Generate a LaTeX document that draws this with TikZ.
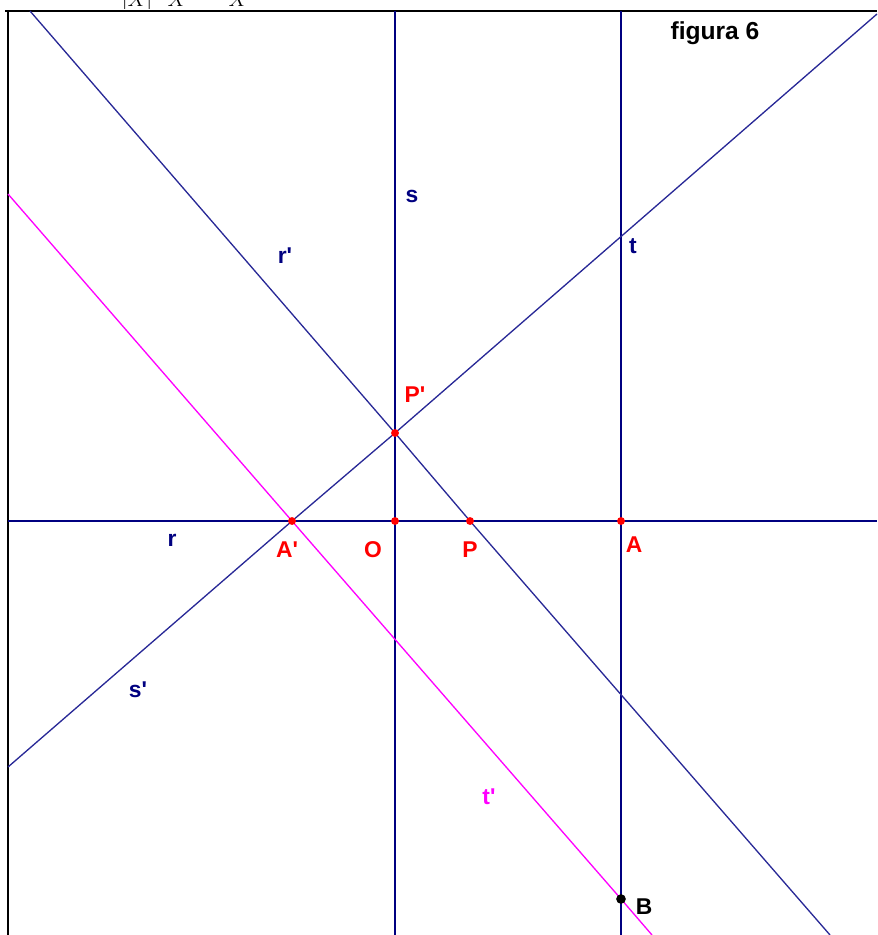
\documentclass[tikz,border=0pt]{standalone}
\usepackage{fontspec}
\setmainfont{Liberation Serif}
\setsansfont{Liberation Sans}
\usepackage{xcolor}
\usetikzlibrary{positioning, calc}

\definecolor{navy}{RGB}{0,0,128}
\definecolor{lblue}{RGB}{40,40,150}
\definecolor{pinkline}{RGB}{255,0,255}
\newcommand{\pr}{\textquotesingle}

\begin{document}
\begin{tikzpicture}[
    x=0.02cm, y=-0.02cm,
    axis/.style={navy, line width=1.1pt},
    image/.style={lblue, line width=0.75pt},
    lbl/.style={font=\sffamily\bfseries\fontsize{13}{15}\selectfont, inner sep=0pt},
    dot/.style={circle, fill=red, inner sep=0pt, minimum size=4.5pt}
]
    \useasboundingbox (0,0) rectangle (877,935);
    % clipped text above the frame
    \begin{scope}
        \clip (0,0) rectangle (877,9);
        \node[font=\fontsize{12}{14}\selectfont, anchor=base] (topa) at (137,7) {$|X|$};
        \node[font=\fontsize{12}{14}\selectfont, anchor=base] (topb) at (177,7) {$X$};
        \node[font=\fontsize{12}{14}\selectfont, anchor=base] (topc) at (238,7) {$X$};
    \end{scope}
    % frame
    \draw[black, line width=1.1pt] (5,11) -- (877,11);
    \draw[black, line width=1.1pt] (8,11) -- (8,935);
    % points
    \coordinate (O) at (395,521);
    \coordinate (P) at (470,521);
    \coordinate (A) at (621,521);
    \coordinate (Ap) at (292,521);
    \coordinate (Pp) at (395,433);
    \coordinate (B) at (621,899);
    % ends of the lines
    \coordinate (rW) at (8,521);   \coordinate (rE) at (877,521);
    \coordinate (sN) at (395,11);  \coordinate (sS) at (395,935);
    \coordinate (tN) at (621,11);  \coordinate (tS) at (621,935);
    \coordinate (rpN) at (30,11);  \coordinate (rpS) at (830,935);
    \coordinate (spW) at (8,767);  \coordinate (spE) at (877,14);
    \coordinate (tpN) at (8,194);  \coordinate (tpS) at (652,935);
    % lines
    \draw[axis] (rW) -- (rE);
    \draw[axis] (sN) -- (sS);
    \draw[axis] (tN) -- (tS);
    \draw[image] (rpN) -- (Pp) -- (P) -- (rpS);
    \draw[image] (spW) -- (Ap) -- (Pp) -- (spE);
    \draw[pinkline, line width=0.75pt] (tpN) -- (Ap) -- (B) -- (tpS);
    % dots
    \foreach \p in {O, P, A, Ap, Pp} {
        \node[dot] (dot\p) at (\p) {};
    }
    \node[circle, fill=black, inner sep=0pt, minimum size=5.5pt] (dotB) at (B) {};
    % labels
    \node[lbl, navy] (ls) at (412,196) {s};
    \node[lbl, navy] (lt) at (633,246) {t};
    \node[lbl, navy] (lrp) at (285,256) {r\pr};
    \node[lbl, navy] (lr) at (172,540) {r};
    \node[lbl, navy] (lsp) at (138,690) {s\pr};
    \node[lbl, pinkline] (ltp) at (489,797) {t\pr};
    \node[lbl, red] (lPp) at (415,395) {P\pr};
    \node[lbl, red] (lAp) at (287,550) {A\pr};
    \node[lbl, red] (lO) at (373,550) {O};
    \node[lbl, red] (lP) at (470,550) {P};
    \node[lbl, red] (lA) at (634,545) {A};
    \node[lbl, black] (lB) at (644,907) {B};
    \node[lbl, black, font=\sffamily\bfseries\fontsize{14}{16}\selectfont] (fig) at (715,33) {figura 6};
\end{tikzpicture}
\end{document}
